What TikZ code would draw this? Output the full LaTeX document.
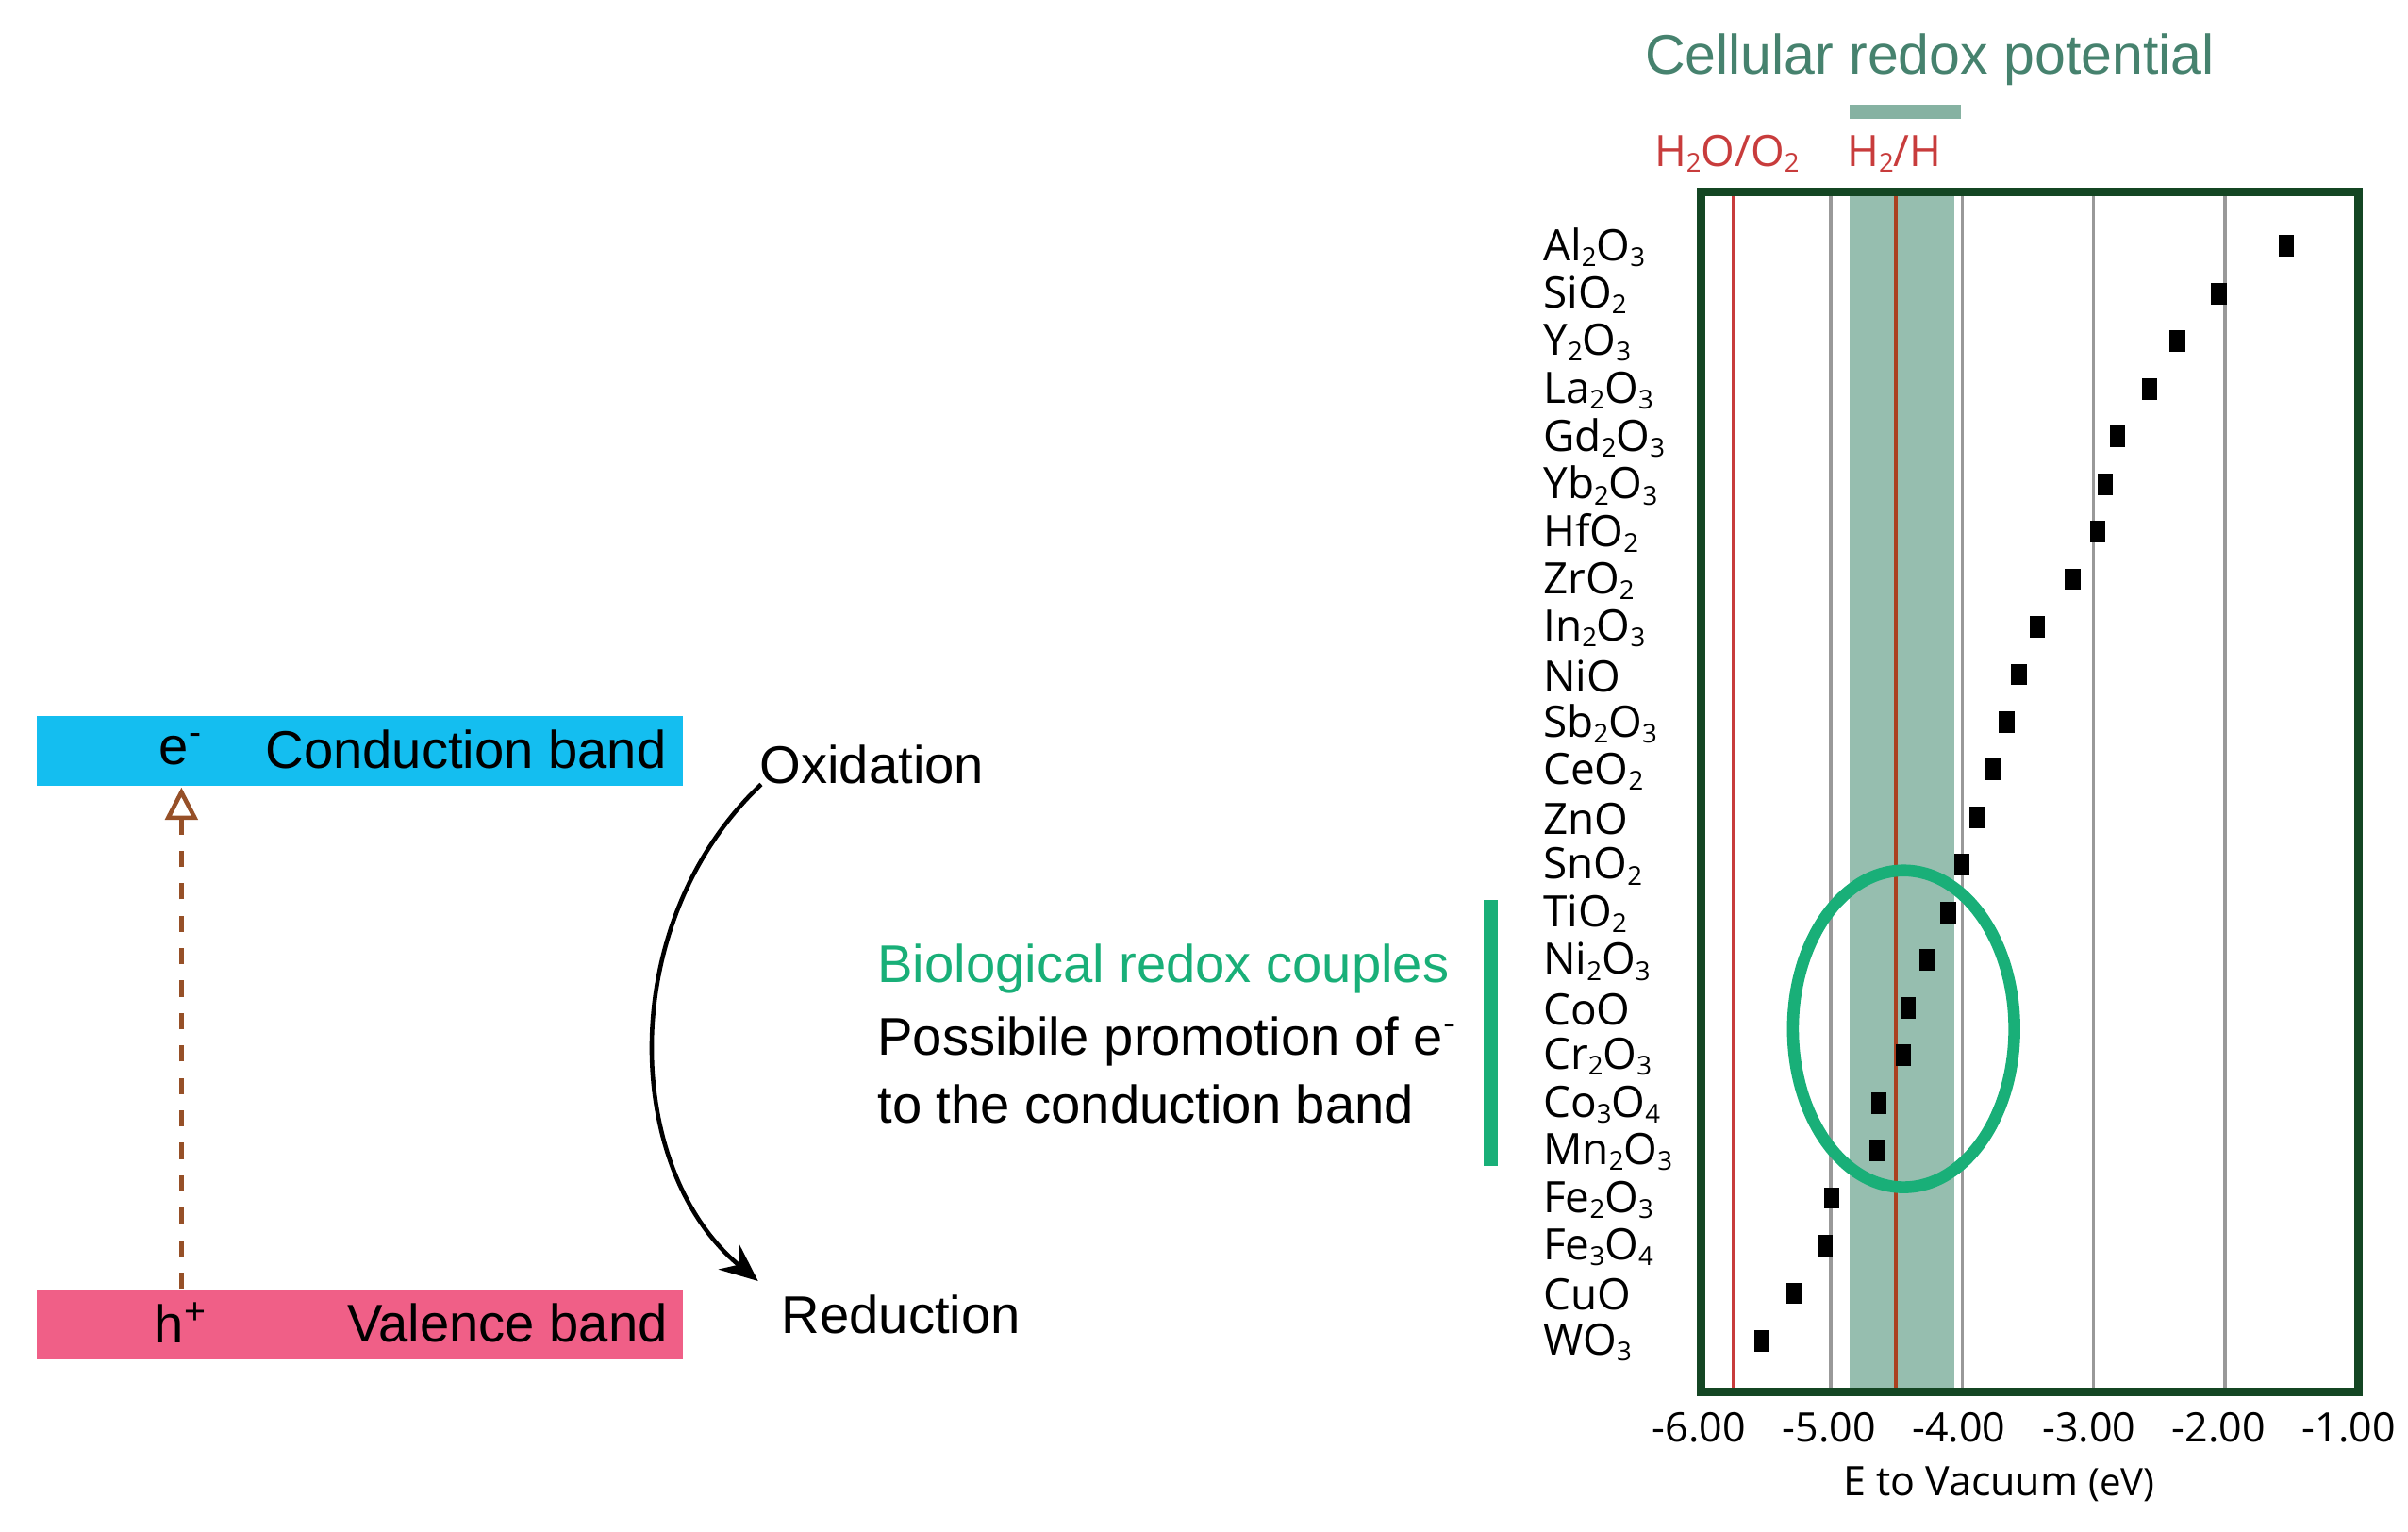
\documentclass[tikz,border=0pt]{standalone}
\usepackage{fontspec}
\setmainfont{Liberation Sans}
\newfontfamily\oxf{Open Sans}
\usetikzlibrary{arrows.meta}
\definecolor{cyanb}{RGB}{20,190,240}
\definecolor{pinkb}{RGB}{240,95,135}
\definecolor{tealb}{RGB}{150,190,175}
\definecolor{tealt}{RGB}{70,130,110}
\definecolor{greenb}{RGB}{25,175,120}
\definecolor{redl}{RGB}{200,60,60}
\definecolor{framec}{RGB}{20,70,35}
\definecolor{brownc}{RGB}{150,80,40}
\newcommand{\sbs}[1]{\raisebox{-0.25ex}{\scalebox{0.6}{#1}}}
\begin{document}
\begin{tikzpicture}[x=0.01cm,y=-0.01cm,
  big/.style={font=\fontsize{9.8}{12}\selectfont},
  ox/.style={font=\oxf\fontsize{8}{10}\selectfont,anchor=west,inner sep=0},
  tick/.style={font=\oxf\fontsize{7.5}{10}\selectfont,anchor=north,inner sep=0},
  dot/.style={fill=black,minimum width=0.1cm,minimum height=0.14cm,inner sep=0}]
\useasboundingbox (0,0) rectangle (1566,996);
% left bands
\node[fill=cyanb,minimum width=4.2cm,minimum height=0.45cm,inner sep=0,anchor=north west] (cb) at (23,465) {};
\node[fill=pinkb,minimum width=4.2cm,minimum height=0.45cm,inner sep=0,anchor=north west] (vb) at (23,838) {};
\node[big] (e) at (118,487) {e\textsuperscript{-}};
\node[big] (cbt) at (303,487) {Conduction band};
\node[big] (h) at (118,860) {h\textsuperscript{+}};
\node[big] (vbt) at (330,860) {Valence band};
\coordinate (ab) at (118,838);
\coordinate (at) at (118,512);
\draw[brownc,thick,dashed,-{Triangle[open,length=6pt,width=6pt]}] (ab) -- (at);
\node[big] (ox) at (567,497) {Oxidation};
\node[big] (red) at (586,855) {Reduction};
\coordinate (c1) at (495,510);
\coordinate (c2) at (493,833);
\draw[thick,-{Stealth[length=7pt,width=6pt]}] (c1) .. controls (400,600) and (405,760) .. (c2);
% middle text
\node[big,text=greenb,anchor=west,inner sep=0] (bio) at (570,630) {Biological redox couples};
\node[big,anchor=west,inner sep=0] (pp) at (570,677) {Possibile promotion of e\textsuperscript{-}};
\node[big,anchor=west,inner sep=0] (tc) at (570,718) {to the conduction band};
\fill[greenb] (965,585) rectangle (974,758);
% chart
\fill[tealb] (1203,125) rectangle (1271,905);
\foreach \v in {-5,-4,-3,-2}{\draw[gray!80,line width=0.6pt] ({1105+85.5*(\v+6)},125) -- ({1105+85.5*(\v+6)},905);}
\draw[redl,line width=0.6pt] (1127,125) -- (1127,905);
\draw[brownc!80!red,line width=0.6pt] (1233,125) -- (1233,905);
\draw[framec,line width=1.6pt] (1106,125) rectangle (1534,905);
\fill[tealb!80!tealt] (1203,68) rectangle (1275,77);
\node[font=\fontsize{10.3}{13}\selectfont,text=tealt] (crp) at (1255,39) {Cellular redox potential};
\node[font=\oxf\fontsize{8}{10}\selectfont,text=redl] (w) at (1123,100) {H\sbs{2}O/O\sbs{2}};
\node[font=\oxf\fontsize{8}{10}\selectfont,text=redl] (hh) at (1232,100) {H\sbs{2}/H};
\foreach \i/\lab/\x in {0/Al\sbs{2}O\sbs{3}/1487,1/SiO\sbs{2}/1443,2/Y\sbs{2}O\sbs{3}/1416,3/La\sbs{2}O\sbs{3}/1398,
 4/Gd\sbs{2}O\sbs{3}/1377,5/Yb\sbs{2}O\sbs{3}/1369,6/HfO\sbs{2}/1364,7/ZrO\sbs{2}/1348,8/In\sbs{2}O\sbs{3}/1325,
 9/NiO/1313,10/Sb\sbs{2}O\sbs{3}/1305,11/CeO\sbs{2}/1296,12/ZnO/1286,13/SnO\sbs{2}/1276,14/TiO\sbs{2}/1267,
 15/Ni\sbs{2}O\sbs{3}/1253,16/CoO/1241,17/Cr\sbs{2}O\sbs{3}/1238,18/Co\sbs{3}O\sbs{4}/1222,19/Mn\sbs{2}O\sbs{3}/1221,
 20/Fe\sbs{2}O\sbs{3}/1191,21/Fe\sbs{3}O\sbs{4}/1187,22/CuO/1167,23/WO\sbs{3}/1146}{
 \node[ox] (l\i) at (1003,{161+30.95*\i}) {\lab};
 \node[dot] (d\i) at (\x,{160+30.95*\i}) {};
}
\draw[greenb,line width=2.2pt] (1238,669) ellipse [x radius=72,y radius=103];
\foreach \v/\t in {-6/-6.00,-5/-5.00,-4/-4.00,-3/-3.00,-2/-2.00,-1/-1.00}{
 \node[tick] (t\v) at ({1105+84.5*(\v+6)},918) {\t};}
\node[font=\oxf\fontsize{7.5}{10}\selectfont] (xl) at (1300,965) {E to Vacuum {\scriptsize(eV)}};
\end{tikzpicture}
\end{document}
